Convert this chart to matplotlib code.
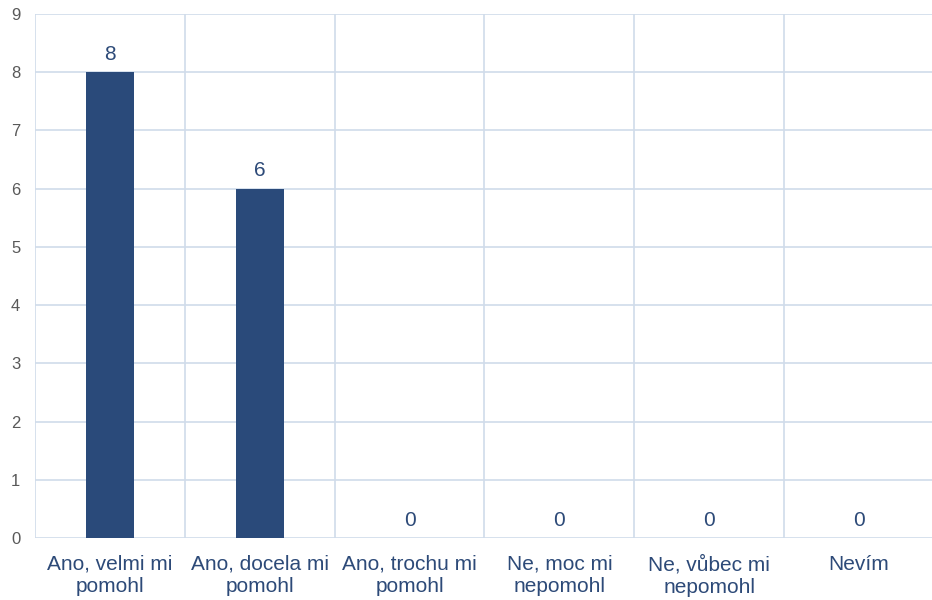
import matplotlib.pyplot as plt
import numpy as np

# ----------------------------- Data -----------------------------
categories = ["Ano, velmi mi\npomohl", "Ano, docela mi\npomohl", "Ano, trochu mi\npomohl",
              "Ne, moc mi\nnepomohl", "Ne, vůbec mi\nnepomohl", "Nevím"]
values = [8, 6, 0, 0, 0, 0]
y_ticks = list(range(0, 10))

# ----------------------------- Style ----------------------------
bar_color = "#2a4a7a"
label_color = "#2d4a78"
grid_color = "#d0dcea"
tick_color = "#595959"

plt.rcParams['font.family'] = ['Liberation Sans', 'DejaVu Sans']

fig = plt.figure(figsize=(9.32, 6.0), dpi=100)
ax = fig.add_axes([35 / 932, 1 - 538 / 600, 1 - 35 / 932 + 0.002, (538 - 14) / 600])

x = np.arange(len(categories))
ax.bar(x, values, width=0.32, color=bar_color, zorder=3)

for xi, v in zip(x, values):
    ax.annotate(str(v), (xi, v), xytext=(0, 6), textcoords="offset points",
                ha="center", va="bottom", fontsize=15, color=label_color)

ax.set_xlim(-0.5, len(categories) - 0.5)
ax.set_ylim(0, 9)
ax.set_yticks(y_ticks)
ax.set_xticks(x)
ax.set_xticklabels(categories, fontsize=15, color=label_color, linespacing=1.25)

# vertical separators between categories
ax.set_xticks(np.arange(-0.5, len(categories) + 0.5, 1), minor=True)
ax.grid(axis="x", which="minor", color=grid_color, linewidth=1.2, zorder=0)
ax.grid(axis="y", which="major", color=grid_color, linewidth=1.2, zorder=0)
ax.grid(axis="x", which="major", visible=False)

ax.tick_params(axis="both", which="both", length=0)
ax.tick_params(axis="y", labelsize=12, labelcolor=tick_color)
ax.tick_params(axis="x", pad=12)
for lbl in ax.get_yticklabels():
    lbl.set_horizontalalignment("center")
ax.yaxis.set_tick_params(pad=14)

for s in ax.spines.values():
    s.set_visible(False)

fig.savefig("out.png", dpi=100, facecolor="white")
